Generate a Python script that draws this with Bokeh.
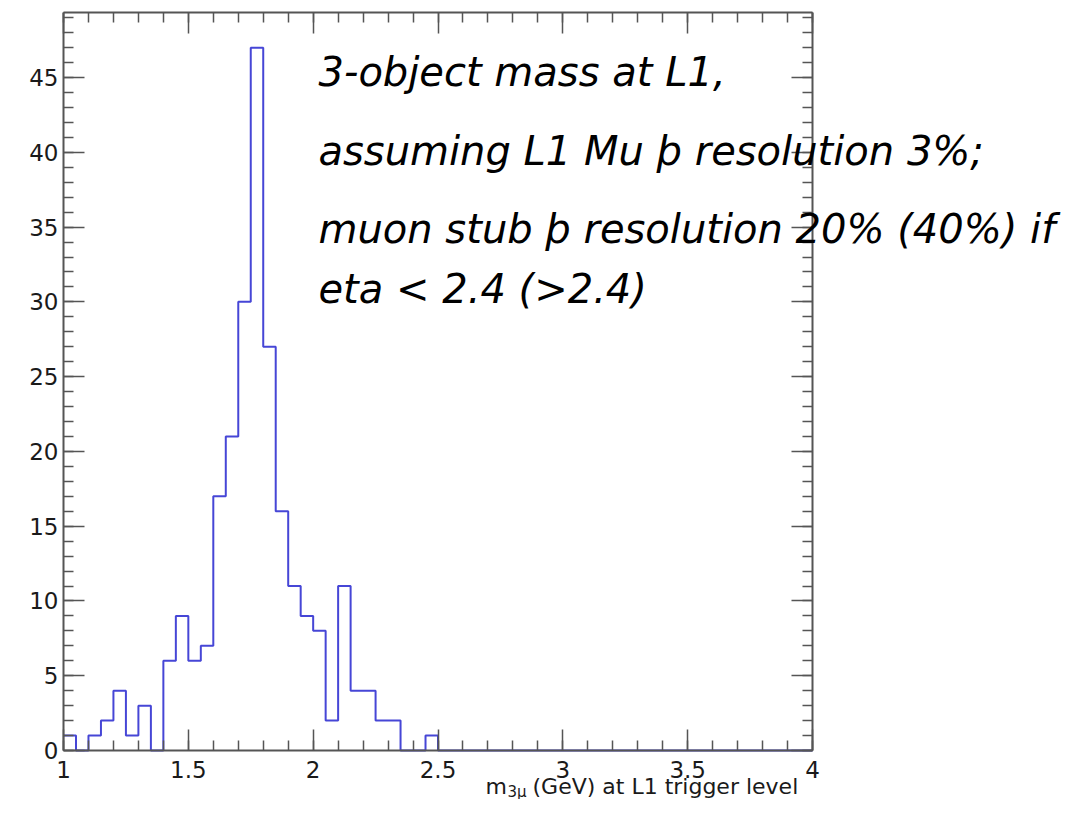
from bokeh.plotting import figure
from bokeh.models import Range1d, LinearAxis, SingleIntervalTicker, Label, CustomJSTickFormatter
from bokeh.embed import file_html
from bokeh.resources import INLINE

# ---- data ----
bin_width = 0.05
bin_low = [round(1.0 + bin_width * i, 2) for i in range(60)]
counts = [1, 0, 1, 2, 4, 1, 3, 0, 6, 9,
          6, 7, 17, 21, 30, 47, 27, 16, 11, 9,
          8, 2, 11, 4, 4, 2, 2, 0, 0, 1,
          0, 0, 0, 0, 0, 0, 0, 0, 0, 0,
          0, 0, 0, 0, 0, 0, 0, 0, 0, 0,
          0, 0, 0, 0, 0, 0, 0, 0, 0, 0]
x_min, x_max = 1.0, 4.0
y_min, y_max = 0.0, 49.35
x_ticks_interval = 0.5
y_ticks_interval = 5
annotation_lines = ["3-object mass at L1,",
                    "assuming L1 Mu þ resolution 3%;",
                    "muon stub þ resolution 20% (40%) if",
                    "eta < 2.4 (>2.4)"]
x_title_parts = ["m", "3μ", "(GeV) at L1 trigger level"]

edges = bin_low + [round(bin_low[-1] + bin_width, 2)]
step_y = counts + [counts[-1]]

# frame covers the canvas below the top axis; histogram box spans x 63..812, y 12..750 px
W, H = 1065, 799
px_per_x = 749 / (x_max - x_min)
px_per_y = 738 / (y_max - y_min)
p = figure(width=W, height=H,
           x_range=Range1d(x_min - 63 / px_per_x, x_min + 1002 / px_per_x),
           y_range=Range1d(y_min - 49 / px_per_y, y_max),
           output_backend="svg", toolbar_location=None,
           x_axis_type=None, y_axis_type=None,
           min_border_left=0, min_border_right=0, min_border_top=12, min_border_bottom=0)
p.outline_line_color = None
p.background_fill_color = "white"

p.step(edges, step_y, mode="after", line_color="#4646d6", line_width=2)

AX = "#555555"
fmt = CustomJSTickFormatter(code="return tick.toString();")
blank_fmt = CustomJSTickFormatter(code="return '';")


def make_axis(interval, labels, bounds, fixed=None):
    ax = LinearAxis(ticker=SingleIntervalTicker(interval=interval, num_minor_ticks=5),
                    formatter=fmt if labels else blank_fmt, bounds=bounds,
                    major_tick_in=21, major_tick_out=0,
                    minor_tick_in=10, minor_tick_out=0,
                    axis_line_color=AX, axis_line_width=2,
                    major_tick_line_color=AX, major_tick_line_width=1.5,
                    minor_tick_line_color=AX, minor_tick_line_width=1.5,
                    major_label_text_font="DejaVu Sans",
                    major_label_text_font_size="23px",
                    major_label_text_color="#1a1a1a")
    if fixed is not None:
        ax.fixed_location = fixed
    if not labels:
        ax.major_label_standoff = 0
    return ax


xb = make_axis(x_ticks_interval, True, (x_min, x_max), fixed=y_min)
xb.major_label_standoff = 10
yl = make_axis(y_ticks_interval, True, (y_min, y_max), fixed=x_min)
yl.major_label_standoff = 5
xt = make_axis(x_ticks_interval, False, (x_min, x_max))
yr = make_axis(y_ticks_interval, False, (y_min, y_max), fixed=x_max)
p.add_layout(xb, "below")
p.add_layout(yl, "left")
p.add_layout(xt, "above")
p.add_layout(yr, "right")

# annotation text (slide overlay), screen units relative to the plot frame (origin bottom-left)
ann_y = [728, 649, 571, 511]
for txt, yy in zip(annotation_lines, ann_y):
    p.add_layout(Label(x=318, y=yy, x_units="screen", y_units="screen", text=txt,
                       text_font="DejaVu Sans", text_font_style="italic",
                       text_font_size="40px", text_color="black", text_baseline="alphabetic",
                       text_align="left"))

# x-axis title with subscript
p.add_layout(Label(x=485, y=13, x_units="screen", y_units="screen", text=x_title_parts[0],
                   text_font="DejaVu Sans", text_font_size="22px", text_color="#1a1a1a",
                   text_baseline="alphabetic"))
p.add_layout(Label(x=507, y=8, x_units="screen", y_units="screen", text=x_title_parts[1],
                   text_font="DejaVu Sans", text_font_size="15px", text_color="#1a1a1a",
                   text_baseline="alphabetic"))
p.add_layout(Label(x=532, y=13, x_units="screen", y_units="screen", text=x_title_parts[2],
                   text_font="DejaVu Sans", text_font_size="22px", text_color="#1a1a1a",
                   text_baseline="alphabetic", text_align="left"))

open("out.html", "w").write(file_html(p, INLINE))
